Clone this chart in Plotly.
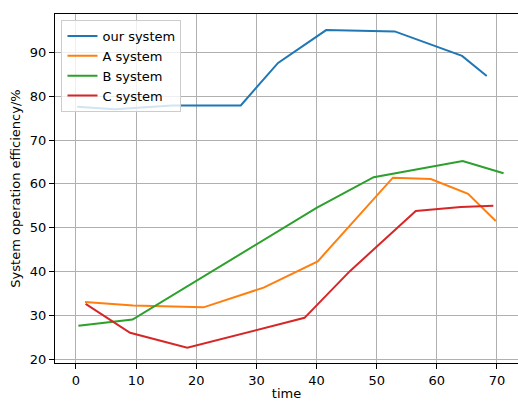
import plotly.graph_objects as go

series_names = ["our system", "A system", "B system", "C system"]
colors = ["#1f77b4", "#ff7f0e", "#2ca02c", "#d62728"]

our_x = [0.2, 6.5, 16.0, 27.4, 33.6, 41.6, 53.0, 64.2, 68.3]
our_y = [77.6, 77.0, 77.9, 77.9, 87.6, 95.1, 94.8, 89.2, 84.6]

a_x = [1.5, 9.5, 21.2, 31.2, 40.2, 52.7, 59.0, 65.2, 69.8]
a_y = [33.0, 32.2, 31.8, 36.3, 42.3, 61.4, 61.1, 57.7, 51.5]

b_x = [0.4, 9.4, 40.0, 49.5, 64.3, 71.1]
b_y = [27.6, 29.0, 54.5, 61.5, 65.2, 62.4]

c_x = [1.6, 9.0, 18.5, 38.0, 45.5, 56.5, 64.0, 69.4]
c_y = [32.6, 26.0, 22.6, 29.4, 40.0, 53.8, 54.7, 55.0]

x_ticks = [0, 10, 20, 30, 40, 50, 60, 70]
y_ticks = [20, 30, 40, 50, 60, 70, 80, 90]

xs = [our_x, a_x, b_x, c_x]
ys = [our_y, a_y, b_y, c_y]

fig = go.Figure()
for name, color, x, y in zip(series_names, colors, xs, ys):
    fig.add_trace(go.Scatter(x=x, y=y, mode="lines", name=name,
                             line=dict(color=color, width=2)))

font = dict(family="DejaVu Sans", size=13, color="black")
fig.update_layout(
    width=518, height=401,
    margin=dict(l=55, r=0, t=14, b=38),
    paper_bgcolor="white", plot_bgcolor="white",
    font=font,
    showlegend=True,
    legend=dict(x=0.014, y=0.983, xanchor="left", yanchor="top",
                bgcolor="rgba(255,255,255,0.8)", bordercolor="#cccccc",
                borderwidth=1, font=dict(family="DejaVu Sans", size=13),
                tracegroupgap=0),
)
fig.update_xaxes(
    range=[-3.49, 73.5], tickvals=x_ticks, ticktext=[str(v) for v in x_ticks],
    showgrid=True, gridcolor="#b0b0b0", gridwidth=1,
    showline=True, linecolor="black", linewidth=1, mirror=True,
    ticks="outside", ticklen=5, tickcolor="black", zeroline=False,
    automargin=False,
    title=dict(text="time", font=font, standoff=8),
)
fig.update_yaxes(
    range=[19.09, 98.77], tickvals=y_ticks, ticktext=[str(v) for v in y_ticks],
    showgrid=True, gridcolor="#b0b0b0", gridwidth=1,
    showline=True, linecolor="black", linewidth=1, mirror=False,
    ticks="outside", ticklen=5, tickcolor="black", zeroline=False,
    automargin=False,
    title=dict(text="System operation efficiency/%", font=font, standoff=6),
)
fig.write_html(
    "out.html",
    config={"displayModeBar": False},
    post_script="document.body.style.margin='0';document.body.style.overflow='hidden';",
)
